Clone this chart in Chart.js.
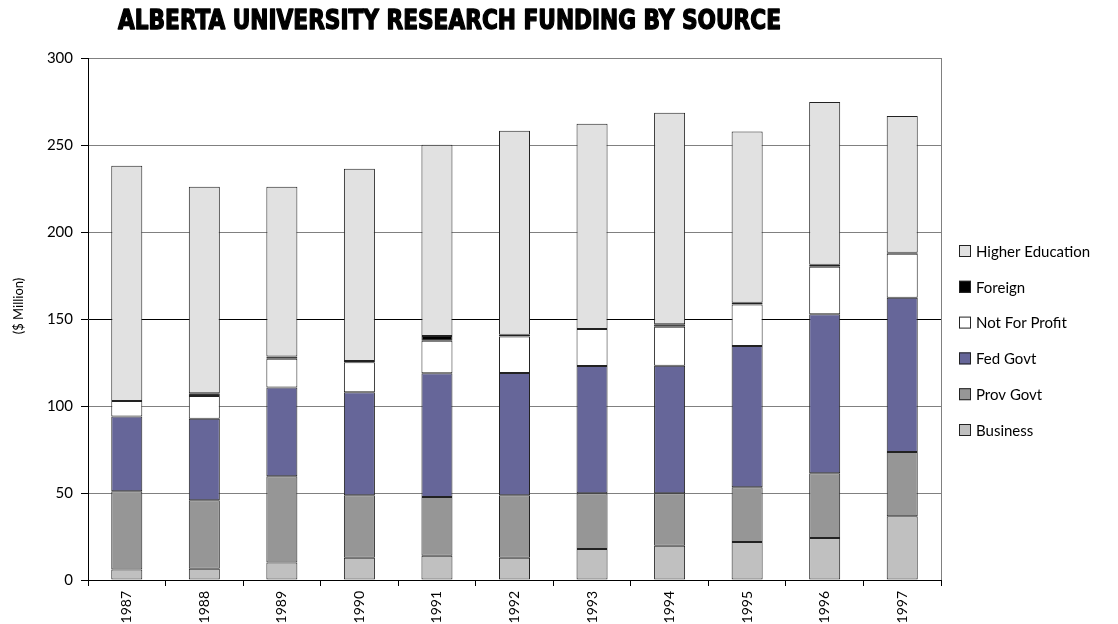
<!DOCTYPE html>
<html>
<head>
<meta charset="utf-8">
<script src="https://cdn.jsdelivr.net/npm/chart.js@4/dist/chart.umd.min.js"></script>
<style>
  html, body { margin: 0; padding: 0; background: #fff; }
  #wrap { position: relative; width: 1118px; height: 624px; }
</style>
</head>
<body>
<div id="wrap"><canvas id="chart" width="1118" height="624"></canvas></div>
<script>
// funding by source, $ million
var years = ["1987", "1988", "1989", "1990", "1991", "1992", "1993", "1994", "1995", "1996", "1997"];
var business   = [6.1, 6.5, 10.0, 12.8, 14.0, 12.8, 17.8, 19.7, 21.8, 24.1, 36.6];
var provGovt   = [44.9, 39.3, 49.6, 35.9, 33.7, 35.9, 32.0, 30.1, 31.5, 37.2, 37.0];
var fedGovt    = [42.9, 46.9, 51.1, 59.2, 71.1, 70.3, 73.2, 73.4, 81.2, 91.4, 88.6];
var notProfit  = [9.0, 13.0, 16.5, 17.2, 18.7, 21.0, 21.3, 22.4, 23.9, 27.3, 25.3];
var foreign    = [0, 1.6, 1.2, 0.8, 2.7, 1.0, 0, 1.4, 1.0, 1.2, 0.6];
var higherEd   = [135.2, 118.7, 97.6, 110.5, 110.0, 117.2, 117.9, 121.6, 98.3, 93.5, 78.6];
var yTicks = [0, 50, 100, 150, 200, 250, 300];

var font = "Lato, 'Noto Sans', sans-serif";

function series(label, data, color) {
  return {
    label: label,
    data: data,
    backgroundColor: color,
    borderColor: "#222",
    borderWidth: 1,
    borderSkipped: false,
    categoryPercentage: 1,
    barPercentage: 0.4
  };
}

var datasets = [
  series("Business", business, "#c0c0c0"),
  series("Prov Govt", provGovt, "#969696"),
  series("Fed Govt", fedGovt, "#666699"),
  series("Not For Profit", notProfit, "#ffffff"),
  series("Foreign", foreign, "#000000"),
  series("Higher Education", higherEd, "#e1e1e1")
];

// title, axis title, plot frame and the legend drawn by hand
var extras = {
  id: "extras",
  afterDraw: function (chart) {
    var c = chart.ctx;
    var a = chart.chartArea;
    c.save();
    c.strokeStyle = "#808080";
    c.lineWidth = 1;
    c.beginPath();
    c.moveTo(a.right + 0.5, a.top);
    c.lineTo(a.right + 0.5, a.bottom);
    c.stroke();

    // heavy condensed title squeezed to its width
    var title = "ALBERTA UNIVERSITY RESEARCH FUNDING BY SOURCE";
    c.font = "bold 26px 'DejaVu Sans Condensed', 'DejaVu Sans', sans-serif";
    c.textBaseline = "middle";
    c.textAlign = "left";
    var w = c.measureText(title).width;
    c.save();
    c.translate(118, 22);
    c.scale(663 / w, 1);
    c.fillStyle = "#000";
    c.strokeStyle = "#000";
    c.lineWidth = 1.3;
    c.lineJoin = "round";
    c.fillText(title, 0, 0);
    c.strokeText(title, 0, 0);
    c.restore();

    c.save();
    c.translate(19, 306);
    c.rotate(-Math.PI / 2);
    c.textAlign = "center";
    c.fillStyle = "#000";
    c.font = "13px " + font;
    c.fillText("($ Million)", 0, 0);
    c.restore();

    c.font = "15px " + font;
    c.textAlign = "left";
    var ds = chart.data.datasets;
    for (var i = 0; i < ds.length; i++) {
      var d = ds[ds.length - 1 - i];
      var y = 251 + i * 35.8;
      c.fillStyle = d.backgroundColor;
      c.fillRect(959, y - 6, 12, 12);
      c.strokeStyle = "#222";
      c.strokeRect(959.5, y - 5.5, 11, 11);
      c.fillStyle = "#000";
      c.fillText(d.label, 976, y + 1);
    }
    c.restore();
  }
};

new Chart(document.getElementById("chart"), {
  type: "bar",
  data: { labels: years, datasets: datasets },
  plugins: [extras],
  options: {
    responsive: false,
    animation: false,
    layout: { padding: { top: 58, right: 177, left: 0, bottom: 0 } },
    plugins: {
      legend: { display: false },
      tooltip: { enabled: false }
    },
    scales: {
      x: {
        stacked: true,
        afterFit: function (s) { s.height = 44; },
        grid: { offset: true, drawOnChartArea: false, tickLength: 6, color: "#000" },
        border: { color: "#000", width: 1 },
        ticks: { minRotation: 90, maxRotation: 90, padding: 5, color: "#000", font: { family: font, size: 14 } }
      },
      y: {
        stacked: true,
        min: 0,
        max: 300,
        afterFit: function (s) { s.width = 88; },
        afterBuildTicks: function (s) { s.ticks = yTicks.map(function (v) { return { value: v }; }); },
        grid: {
          tickLength: 7,
          color: function (ctx) { return ctx.tick && ctx.tick.value === 150 ? "#000" : "#808080"; },
          tickColor: "#000"
        },
        border: { color: "#000", width: 1 },
        ticks: { padding: 8, color: "#000", font: { family: font, size: 15 } }
      }
    }
  }
});
</script>
</body>
</html>
